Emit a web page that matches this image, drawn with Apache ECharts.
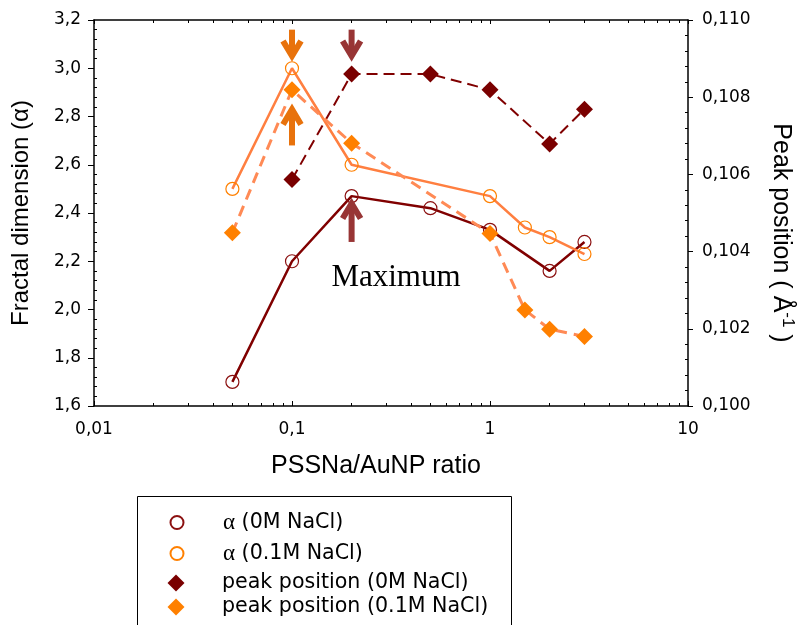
<!DOCTYPE html>
<html><head><meta charset="utf-8">
<script src="https://cdn.jsdelivr.net/npm/echarts@6/dist/echarts.min.js"></script>
<style>html,body{margin:0;padding:0;background:#fff}#c{width:804px;height:625px}</style>
</head><body><div id="c"></div>
<script>
// ---- data ----
const ratio0M = [0.05, 0.1, 0.2, 0.5, 1, 2, 3];
const alpha0M = [1.70, 2.20, 2.47, 2.42, 2.33, 2.16, 2.28];
const ratio01M = [0.05, 0.1, 0.2, 1, 1.5, 2, 3];
const alpha01M = [2.50, 3.00, 2.60, 2.47, 2.34, 2.30, 2.23];
const peakRatio0M = [0.1, 0.2, 0.5, 1, 2, 3];
const peak0M = [0.10587, 0.1086, 0.1086, 0.10819, 0.10679, 0.10769];
const peakRatio01M = [0.05, 0.1, 0.2, 1, 1.5, 2, 3];
const peak01M = [0.10449, 0.10819, 0.10681, 0.10447, 0.10249, 0.10199, 0.1018];
const xTickLabels = ['0,01', '0,1', '1', '10'];
const yLeftTickLabels = ['1,6', '1,8', '2,0', '2,2', '2,4', '2,6', '2,8', '3,0', '3,2'];
const yRightTickLabels = ['0,100', '0,102', '0,104', '0,106', '0,108', '0,110'];
const seriesNames = ['α (0M NaCl)', 'α (0.1M NaCl)', 'peak position (0M NaCl)', 'peak position (0.1M NaCl)'];
const arrowRatio = [0.1, 0.1, 0.2, 0.2];
const arrowTail = [3.16, 2.68, 3.16, 2.28];
const arrowTip = [3.03, 2.85, 3.03, 2.46];
const arrowGroup = [0, 0, 1, 1];
const noteText = ['Maximum'];
const noteRatio = [0.335];
const noteAlpha = [2.13];

// ---- styles / layout ----
const DARK = '#800000';
const DARK_MARK = '#7a0000';
const ORANGE_LINE = '#ff7f40';
const ORANGE_DASH = '#ff8a55';
const ORANGE_MARK = '#ff8000';
const arrowColors = ['#e8720c', '#983535'];
const legendIcons = ['circle', 'circle', 'diamond', 'diamond'];
const legendIconSize = [13, 13, 17, 17];
const legendRowCenter = [522, 553, 583, 607];
const legendIconCenterX = 176;
const legendTextX = 222;

const pairs = (xs, ys) => xs.map((x, i) => [x, ys[i]]);
const chart = echarts.init(document.getElementById('c'), null, {renderer: 'canvas'});

const tickFont = {fontFamily: 'DejaVu Sans', fontSize: 17, color: '#000'};
const lineBlack = {show: true, lineStyle: {color: '#000', width: 1.5}};

const legends = seriesNames.map((name, i) => {
  const s = legendIconSize[i];
  const left = legendIconCenterX - s / 2;
  return {
    orient: 'vertical', left: left, top: legendRowCenter[i] - 11, padding: 0,
    itemWidth: s, itemHeight: s, selectedMode: false,
    data: [{name: name, icon: legendIcons[i]}],
    formatter: n => '{sp|}' + n.replace('α', '{g|α}'),
    textStyle: {fontFamily: 'DejaVu Sans', fontSize: 20.6, lineHeight: 22, color: '#000',
      rich: {
        sp: {width: legendTextX - (left + s + 5), fontSize: 20, lineHeight: 22},
        g: {fontFamily: 'Liberation Serif', fontSize: 23, lineHeight: 22, color: '#000'}
      }}
  };
});

const minorAxis = (pos, min, max, interval) => ({
  type: 'value', min: min, max: max, interval: interval, position: pos,
  axisLine: {show: false},
  axisTick: {show: false, inside: true},
  minorTick: {show: true, splitNumber: 5, length: 3, lineStyle: {color: '#000', width: 1}},
  splitLine: {show: false}, minorSplitLine: {show: false},
  axisLabel: {show: false}
});

chart.setOption({
  animation: false,
  backgroundColor: '#fff',
  grid: {left: 94, right: 111, top: 20, bottom: 219},
  graphic: [{
    type: 'rect', left: 135, top: 494, silent: true,
    shape: {width: 374, height: 140},
    style: {fill: 'none', stroke: '#000', lineWidth: 1}
  }],
  legend: legends,
  xAxis: [{
    type: 'log', logBase: 10, min: 0.01, max: 10, position: 'bottom',
    axisLine: lineBlack,
    axisTick: {show: true, inside: true, length: 5, lineStyle: {color: '#000', width: 1}},
    minorTick: {show: true, splitNumber: 9, length: 3, lineStyle: {color: '#000', width: 1}},
    splitLine: {show: false}, minorSplitLine: {show: false},
    axisLabel: Object.assign({margin: 15, formatter: v => xTickLabels[Math.round(Math.log10(v)) + 2]}, tickFont),
    name: 'PSSNa/AuNP ratio', nameLocation: 'middle', nameGap: 48,
    nameTextStyle: {fontFamily: 'Liberation Sans', fontSize: 25, color: '#000', padding: [0, 30, 0, 0]}
  }, {
    type: 'log', logBase: 10, min: 0.01, max: 10, position: 'top',
    axisLine: lineBlack,
    axisTick: {show: true, inside: true, length: 4, lineStyle: {color: '#000', width: 1}},
    minorTick: {show: true, splitNumber: 9, length: 3, lineStyle: {color: '#000', width: 1}},
    splitLine: {show: false}, axisLabel: {show: false}
  }],
  yAxis: [{
    type: 'value', min: 1.6, max: 3.2, interval: 0.2, position: 'left',
    axisLine: lineBlack,
    axisTick: {show: true, inside: false, length: 6, lineStyle: {color: '#000', width: 1}},
    splitLine: {show: false},
    axisLabel: Object.assign({margin: 13, formatter: v => yLeftTickLabels[Math.round((v - 1.6) / 0.2)]}, tickFont),
    name: 'Fractal dimension (α)', nameLocation: 'middle', nameGap: 61,
    nameTextStyle: {fontFamily: 'Liberation Sans', fontSize: 24, color: '#000'}
  }, {
    type: 'value', min: 0.1, max: 0.11, interval: 0.002, position: 'right',
    axisLine: lineBlack,
    axisTick: {show: true, inside: false, length: 5, lineStyle: {color: '#000', width: 1}},
    splitLine: {show: false},
    axisLabel: Object.assign({margin: 14, formatter: v => yRightTickLabels[Math.round((v - 0.1) / 0.002)]}, tickFont),
    name: 'Peak position ( Å{s|-1} )', nameLocation: 'middle', nameGap: 78, nameRotate: -90,
    nameTextStyle: {fontFamily: 'Liberation Sans', fontSize: 25, color: '#000', padding: [0, 0, 0, 40],
      rich: {s: {fontFamily: 'Liberation Sans', fontSize: 17, color: '#000', padding: [0, 0, 13, 0]}}}
  },
  minorAxis('left', 1.6, 3.2, 0.2),
  minorAxis('right', 0.1, 0.11, 0.002)
  ],
  series: [{
    name: seriesNames[0], type: 'line', xAxisIndex: 0, yAxisIndex: 0,
    data: pairs(ratio0M, alpha0M),
    symbol: 'circle', symbolSize: 13, showAllSymbol: true,
    lineStyle: {color: DARK, width: 2.5},
    itemStyle: {color: 'transparent', borderColor: '#8b1010', borderWidth: 1.2},
    z: 3
  }, {
    name: seriesNames[1], type: 'line', xAxisIndex: 0, yAxisIndex: 0,
    data: pairs(ratio01M, alpha01M),
    symbol: 'circle', symbolSize: 13, showAllSymbol: true,
    lineStyle: {color: ORANGE_LINE, width: 2.5},
    itemStyle: {color: 'transparent', borderColor: ORANGE_MARK, borderWidth: 1.2},
    z: 3
  }, {
    name: seriesNames[2], type: 'line', xAxisIndex: 0, yAxisIndex: 1,
    data: pairs(peakRatio0M, peak0M),
    symbol: 'diamond', symbolSize: 17, showAllSymbol: true,
    lineStyle: {color: DARK, width: 2, type: [11, 6]},
    itemStyle: {color: DARK_MARK},
    z: 4
  }, {
    name: seriesNames[3], type: 'line', xAxisIndex: 0, yAxisIndex: 1,
    data: pairs(peakRatio01M, peak01M),
    symbol: 'diamond', symbolSize: 17, showAllSymbol: true,
    lineStyle: {color: ORANGE_DASH, width: 3, type: [11, 7]},
    itemStyle: {color: ORANGE_MARK},
    z: 4
  }, {
    name: 'arrows', type: 'custom', xAxisIndex: 0, yAxisIndex: 0, silent: true, z: 5,
    data: arrowRatio.map((x, i) => [x, arrowTail[i], arrowTip[i], arrowGroup[i]]),
    renderItem: function (params, api) {
      const tail = api.coord([api.value(0), api.value(1)]);
      const tip = api.coord([api.value(0), api.value(2)]);
      const dir = tip[1] > tail[1] ? 1 : -1;
      const color = arrowColors[api.value(3)];
      const vy = tip[1] - dir * 5;
      return {type: 'group', children: [
        {type: 'line', shape: {x1: tail[0], y1: tail[1], x2: tail[0], y2: vy - dir * 2},
          style: {stroke: color, lineWidth: 6}},
        {type: 'polyline', shape: {points: [[tip[0] - 9, vy - dir * 15], [tip[0], vy], [tip[0] + 9, vy - dir * 15]]},
          style: {stroke: color, lineWidth: 6, fill: null, lineJoin: 'miter'}}
      ]};
    }
  }, {
    name: 'notes', type: 'custom', xAxisIndex: 0, yAxisIndex: 0, silent: true, z: 5,
    data: noteRatio.map((x, i) => [x, noteAlpha[i], i]),
    renderItem: function (params, api) {
      const p = api.coord([api.value(0), api.value(1)]);
      return {type: 'text', x: p[0], y: p[1],
        style: {text: noteText[api.value(2)], fontFamily: 'Liberation Serif', fontSize: 31,
          fill: '#000', align: 'center', verticalAlign: 'middle'}};
    }
  }]
});
</script></body></html>
